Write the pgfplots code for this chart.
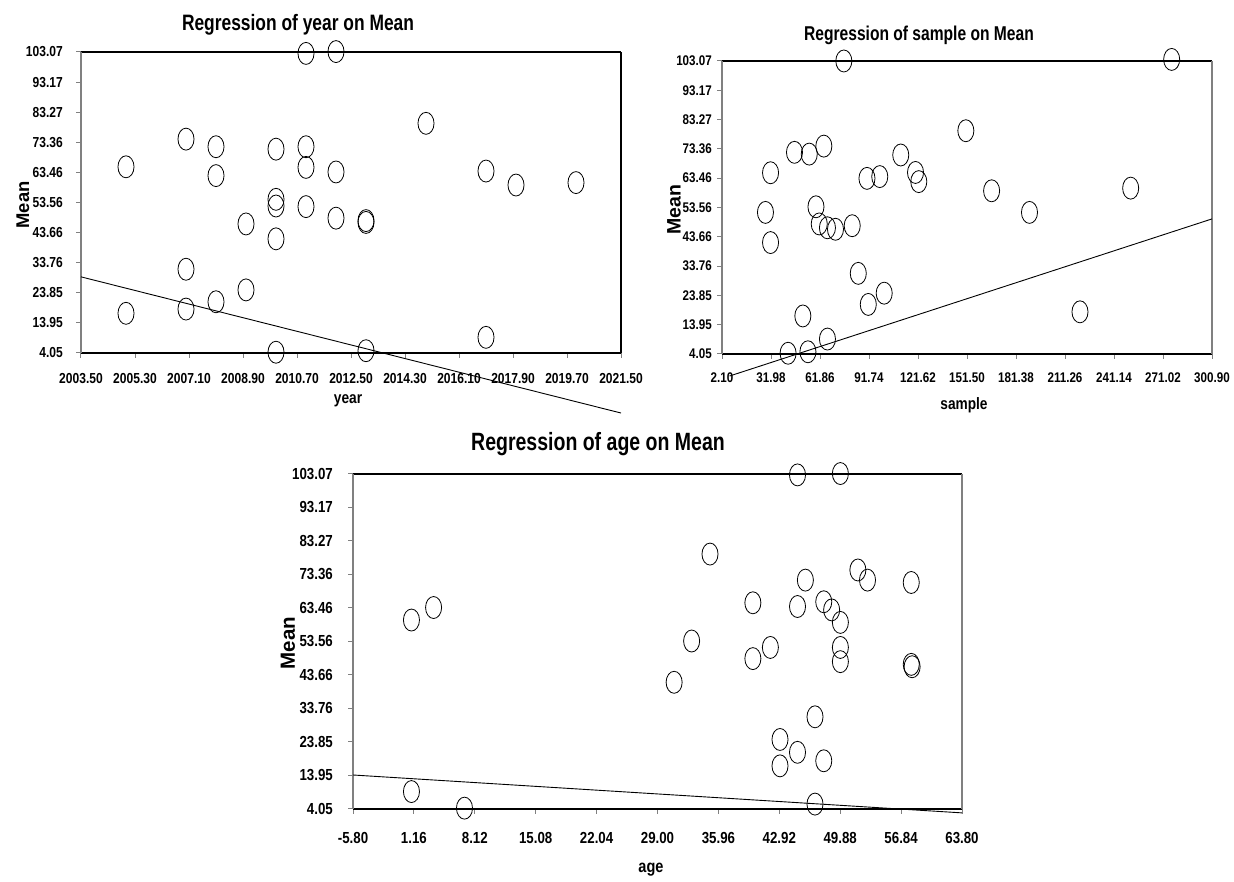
\documentclass[border=0pt]{standalone}
\usepackage{fontspec}
\setmainfont{Liberation Sans}[FakeStretch=0.83]
\newfontfamily\widefont{Liberation Sans}
\newfontfamily\titlefont{Liberation Sans}[FakeStretch=0.78]
\usepackage{pgfplots}
\pgfplotsset{compat=1.18}

\pgfplotsset{
  regstyle/.style={
    scale only axis, clip=false, separate axis lines,
    x axis line style={black, line width=1.2pt},
    y axis line style={gray, line width=1.4pt},
    tick align=outside, xtick pos=left, ytick pos=left,
    major tick length=5pt, major tick style={gray, line width=1pt},
    ymin=4.05, ymax=103.07,
    ytick={4.05,13.952,23.854,33.756,43.658,53.56,63.462,73.364,83.266,93.168,103.07},
    yticklabels={4.05,13.95,23.85,33.76,43.66,53.56,63.46,73.36,83.27,93.17,103.07},
  },
  pts/.style={only marks, mark=o, mark size=11pt,
    mark options={xscale=0.73, line width=0.8pt, draw=black}},
  regline/.style={no marks, black, line width=0.9pt},
}

\begin{document}
\begin{tikzpicture}
\path[use as bounding box] (0pt,0pt) rectangle (1234pt,882pt);

% ---------------- Panel 1: year
\begin{axis}[regstyle, at={(81pt,529pt)}, anchor=south west,
  width=540pt, height=301pt,
  xmin=2003.5, xmax=2021.5,
  xtick={2003.5,2005.3,2007.1,2008.9,2010.7,2012.5,2014.3,2016.1,2017.9,2019.7,2021.5},
  xticklabels={2003.50,2005.30,2007.10,2008.90,2010.70,2012.50,2014.30,2016.10,2017.90,2019.70,2021.50},
  xticklabel style={anchor=north, inner sep=0pt, yshift=-15pt, font=\bfseries\fontsize{14.5}{14.5}\selectfont},
  yticklabel style={anchor=east, inner sep=0pt, xshift=-13pt, font=\bfseries\fontsize{14.5}{14.5}\selectfont},
]
\addplot[pts] coordinates {
(2005,65.3) (2005,17.1) (2007,74.4) (2007,31.6) (2007,18.5)
(2008,71.9) (2008,62.4) (2008,20.9) (2009,46.5) (2009,24.8)
(2010,71.1) (2010,54.6) (2010,52.4) (2010,41.6) (2010,4.3)
(2011,102.6) (2011,71.9) (2011,65.1) (2011,52.2)
(2012,103.2) (2012,63.6) (2012,48.4)
(2013,47.6) (2013,47.0) (2013,4.8)
(2015,79.6) (2017,63.9) (2017,9.2) (2018,59.3) (2020,60.1)
};
\addplot[regline] coordinates {(2003.5,29.1) (2021.5,-15.7)};
\draw[black, line width=1.2pt] (rel axis cs:1,0) -- (rel axis cs:1,1);
\end{axis}

% ---------------- Panel 2: sample
\begin{axis}[regstyle, at={(722pt,528pt)}, anchor=south west,
  width=490pt, height=293pt,
  xmin=2.1, xmax=300.9,
  xtick={2.1,31.98,61.86,91.74,121.62,151.5,181.38,211.26,241.14,271.02,300.9},
  xticklabels={2.10,31.98,61.86,91.74,121.62,151.50,181.38,211.26,241.14,271.02,300.90},
  xticklabel style={anchor=north, inner sep=0pt, yshift=-14pt, font=\bfseries\fontsize{14}{14}\selectfont},
  yticklabel style={anchor=east, inner sep=0pt, xshift=-5pt, font=\bfseries\fontsize{14}{14}\selectfont},
]
\addplot[pts] coordinates {
(76.4,103.07) (276.3,103.6) (150.8,79.5) (46.3,72.2) (55.3,71.6)
(64.2,74.3) (111.1,71.3) (31.7,65.3) (90.5,63.4) (98.3,64.0)
(120.1,65.4) (122.1,62.3) (166.5,59.2) (251.3,60.1) (28.6,51.9)
(189.6,51.9) (59.4,53.8) (61.4,48.0) (66.4,46.7) (71.3,46.2)
(81.5,47.4) (31.7,41.7) (85.2,31.3) (101.0,24.6) (91.3,20.8)
(51.4,16.9) (220.4,18.3) (66.4,9.1) (42.4,4.3) (54.5,4.8)
};
\addplot[regline] coordinates {(6.7,-3.4) (300.9,49.7)};
\end{axis}

% ---------------- Panel 3: age
\begin{axis}[regstyle, at={(353pt,73pt)}, anchor=south west,
  width=609pt, height=335pt,
  xmin=-5.8, xmax=63.8,
  xtick={-5.8,1.16,8.12,15.08,22.04,29,35.96,42.92,49.88,56.84,63.8},
  xticklabels={-5.80,1.16,8.12,15.08,22.04,29.00,35.96,42.92,49.88,56.84,63.80},
  xticklabel style={anchor=north, inner sep=0pt, yshift=-18pt, font=\bfseries\fontsize{16}{16}\selectfont},
  yticklabel style={anchor=east, inner sep=0pt, xshift=-15pt, font=\bfseries\fontsize{16}{16}\selectfont},
]
\addplot[pts] coordinates {
(0.88,59.9) (0.88,9.2) (3.41,63.6) (6.94,4.3) (30.9,41.5)
(32.9,53.7) (35.0,79.4) (39.9,65.0) (39.9,48.5) (41.9,51.8)
(43.0,24.6) (43.0,16.8) (45.0,102.8) (45.0,63.9) (45.0,20.8)
(45.9,71.7) (47.0,31.3) (47.0,5.5) (48.0,65.3) (48.0,18.3)
(48.9,62.9) (49.9,103.2) (49.9,59.2) (49.9,51.8) (49.9,47.6)
(51.9,74.7) (53.0,71.7) (58.0,71.0) (58.0,46.8) (58.1,46.1)
};
\addplot[regline] coordinates {(-5.8,14.1) (63.8,2.9)};
\end{axis}

% ---------------- titles and axis labels
\node[anchor=base, font=\titlefont\bfseries\fontsize{22.3}{22.3}\selectfont] at (298pt,851pt) {Regression of year on Mean};
\node[anchor=base, font=\titlefont\bfseries\fontsize{20}{20}\selectfont] at (919pt,841pt) {Regression of sample on Mean};
\node[anchor=base, font=\titlefont\bfseries\fontsize{25}{25}\selectfont] at (598pt,431pt) {Regression of age on Mean};

\node[rotate=90, font=\widefont\bfseries\fontsize{18.4}{18.4}\selectfont] at (23pt,677pt) {Mean};
\node[rotate=90, font=\widefont\bfseries\fontsize{19.5}{19.5}\selectfont] at (674pt,672pt) {Mean};
\node[rotate=90, font=\widefont\bfseries\fontsize{20.5}{20.5}\selectfont] at (288pt,239pt) {Mean};

\node[font=\bfseries\fontsize{16.5}{16.5}\selectfont] at (348pt,481pt) {year};
\node[font=\bfseries\fontsize{16.5}{16.5}\selectfont] at (964pt,477pt) {sample};
\node[font=\bfseries\fontsize{17.5}{17.5}\selectfont] at (651pt,12pt) {age};
\end{tikzpicture}
\end{document}
